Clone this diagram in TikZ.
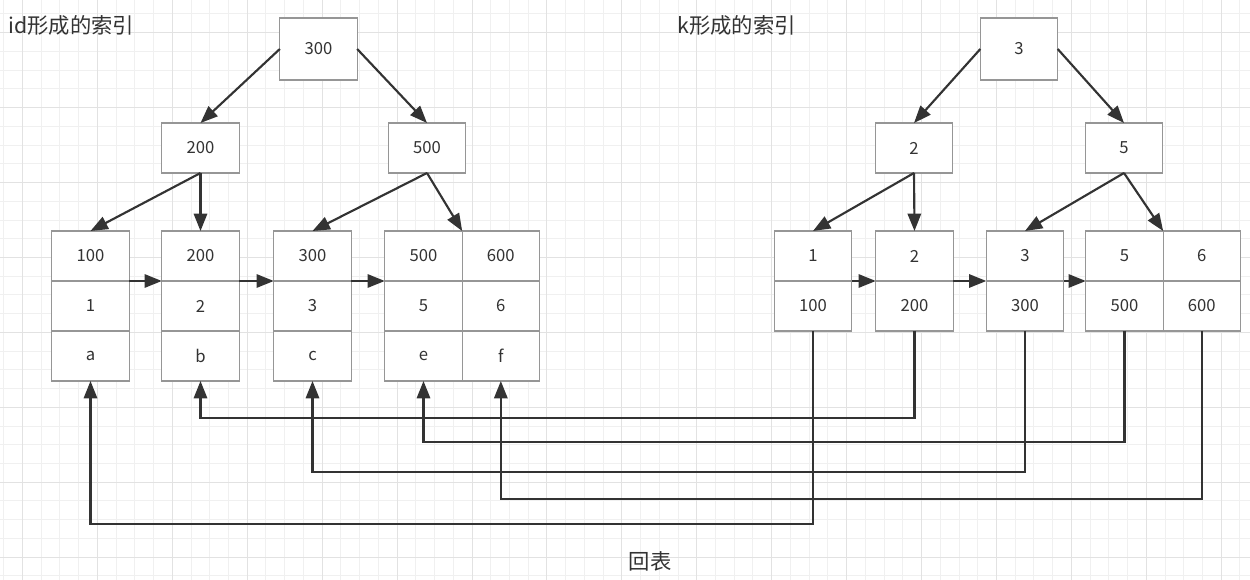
\documentclass[tikz,border=0pt]{standalone}
\usepackage{fontspec}
\setmainfont{Noto Sans CJK SC}
\usetikzlibrary{arrows.meta,positioning}
\definecolor{GridMinor}{RGB}{240,240,240}
\definecolor{GridMajor}{RGB}{226,226,226}
\definecolor{BoxGray}{RGB}{150,150,150}
\definecolor{InkDark}{RGB}{51,51,51}
\tikzset{
  keybox/.style={draw=BoxGray,fill=white,line width=0.8pt,minimum width=58pt,
    minimum height=37.5pt,inner sep=0pt,outer sep=0pt,text=InkDark,
    font=\fontsize{12.5}{14}\selectfont},
  rootbox/.style={keybox,minimum height=46.5pt},
  cell/.style={keybox},
  title/.style={font=\fontsize{16}{19}\selectfont,text=InkDark,inner sep=0pt},
  arrow/.style={-{Triangle[length=13pt,width=10pt]},line width=1.6pt,InkDark},
  link/.style={arrow}
}

\begin{document}
\begin{tikzpicture}[x=0.75pt,y=-0.75pt]
  \useasboundingbox (0,0) rectangle (1250,580);
  % grid
  \foreach \i in {0,...,66}
    \draw[GridMinor,line width=0.75pt] ({3.77+18.73*\i},0) -- ++(0,580);
  \foreach \i in {0,...,30}
    \draw[GridMinor,line width=0.75pt] (0,{14+18.73*\i}) -- ++(1250,0);
  \foreach \i in {0,...,16}
    \draw[GridMajor,line width=0.75pt] ({22.5+74.92*\i},0) -- ++(0,580);
  \foreach \i in {0,...,7}
    \draw[GridMajor,line width=0.75pt] (0,{32.7+74.92*\i}) -- ++(1250,0);

  \node[title,anchor=west] (idtitle) at (8,25) {id形成的索引};
  \node[title,anchor=west] (ktitle) at (677,25) {k形成的索引};
  \node[title] (back) at (650,561) {回表};

  % id index
  \node[rootbox] (r300) at (318.5,49) {300};
  \node[keybox] (n200) at (200.5,148) {200};
  \node[keybox] (n500) at (427,148) {500};

  \node[cell] (a1) at (90.5,256) {100};
  \node[cell,below=0pt of a1] (b1) {1};
  \node[cell,below=0pt of b1] (c1) {a};
  \node[cell] (a2) at (200.5,256) {200};
  \node[cell,below=0pt of a2] (b2) {2};
  \node[cell,below=0pt of b2] (c2) {b};
  \node[cell] (a3) at (312.5,256) {300};
  \node[cell,below=0pt of a3] (b3) {3};
  \node[cell,below=0pt of b3] (c3) {c};
  \node[cell] (a4) at (423.5,256) {500};
  \node[cell,below=0pt of a4] (b4) {5};
  \node[cell,below=0pt of b4] (c4) {e};
  \node[cell,right=0pt of a4] (a5) {600};
  \node[cell,below=0pt of a5] (b5) {6};
  \node[cell,below=0pt of b5] (c5) {f};

  \draw[arrow] (r300.west) -- (n200.north);
  \draw[arrow] (r300.east) -- (n500.north);
  \draw[arrow] (n200.south) -- (a1.north);
  \draw[arrow] (n200.south) -- (a2.north);
  \draw[arrow] (n500.south) -- (a3.north);
  \draw[arrow] (n500.south) -- (a4.north east);
  \draw[arrow] (a1.south east) -- (a2.south west);
  \draw[arrow] (a2.south east) -- (a3.south west);
  \draw[arrow] (a3.south east) -- (a4.south west);

  % k index
  \node[rootbox] (r3) at (1019,49) {3};
  \node[keybox] (k2) at (914,148) {2};
  \node[keybox] (k5) at (1124,148) {5};

  \node[cell] (ka1) at (813,256) {1};
  \node[cell,below=0pt of ka1] (kb1) {100};
  \node[cell] (ka2) at (914.5,256) {2};
  \node[cell,below=0pt of ka2] (kb2) {200};
  \node[cell] (ka3) at (1025,256) {3};
  \node[cell,below=0pt of ka3] (kb3) {300};
  \node[cell] (ka4) at (1124.5,256) {5};
  \node[cell,below=0pt of ka4] (kb4) {500};
  \node[cell,right=0pt of ka4] (ka5) {6};
  \node[cell,below=0pt of ka5] (kb5) {600};

  \draw[arrow] (r3.west) -- (k2.north);
  \draw[arrow] (r3.east) -- (k5.north);
  \draw[arrow] (k2.south) -- (ka1.north);
  \draw[arrow] (k2.south) -- (ka2.north);
  \draw[arrow] (k5.south) -- (ka3.north);
  \draw[arrow] (k5.south) -- (ka4.north east);
  \draw[arrow] (ka1.south east) -- (ka2.south west);
  \draw[arrow] (ka2.south east) -- (ka3.south west);
  \draw[arrow] (ka3.south east) -- (ka4.south west);

  % back to table
  \draw[link] (kb1.south) -- ++(0,193) -| (c1.south);
  \draw[link] (kb2.south) -- ++(0,87) -| (c2.south);
  \draw[link] (kb3.south) -- ++(0,141) -| (c3.south);
  \draw[link] (kb4.south) -- ++(0,111) -| (c4.south);
  \draw[link] (kb5.south) -- ++(0,168) -| (c5.south);
\end{tikzpicture}
\end{document}
